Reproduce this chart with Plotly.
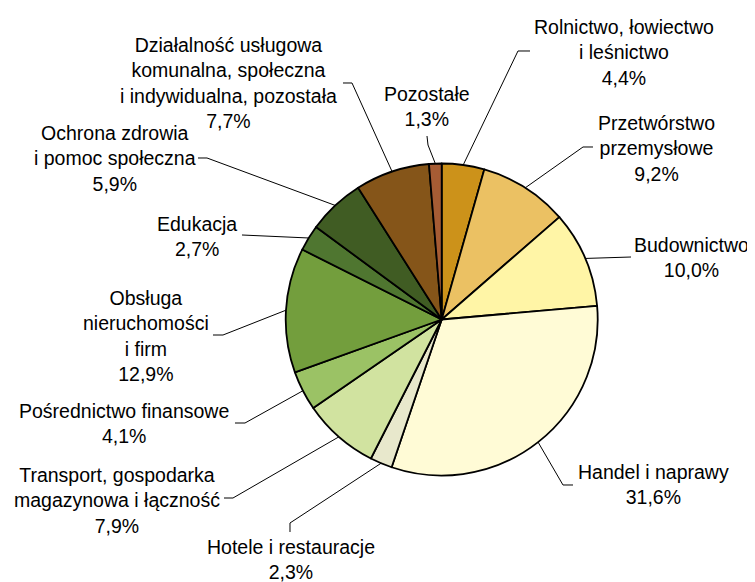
import math
import plotly.graph_objects as go

# ---- data ----
categories = [
    "Rolnictwo, łowiectwo<br>i leśnictwo",
    "Przetwórstwo<br>przemysłowe",
    "Budownictwo",
    "Handel i naprawy",
    "Hotele i restauracje",
    "Transport, gospodarka<br>magazynowa i łączność",
    "Pośrednictwo finansowe",
    "Obsługa<br>nieruchomości<br>i firm",
    "Edukacja",
    "Ochrona zdrowia<br>i pomoc społeczna",
    "Działalność usługowa<br>komunalna, społeczna<br>i indywidualna, pozostała",
    "Pozostałe",
]
shares = [4.4, 9.2, 10.0, 31.6, 2.3, 7.9, 4.1, 12.9, 2.7, 5.9, 7.7, 1.3]
value_labels = ["4,4%", "9,2%", "10,0%", "31,6%", "2,3%", "7,9%", "4,1%",
                "12,9%", "2,7%", "5,9%", "7,7%", "1,3%"]

# ---- styles ----
colors = ["#CC921A", "#EBC163", "#FFF5A6", "#FFFBD6", "#E8E8CC", "#D1E3A0",
          "#9BC265", "#739E3D", "#4F7630", "#405C23", "#855519", "#A65C34"]

OFF = 8                    # page body margin
W, H = 755 - OFF, 582 - OFF
CX, CY, R = 441.7, 319.5, 156.0

# label block centres and leader-line bend points (window pixels, layout only)
label_pos = [(624, 52), (656, 148), (691, 257), (653, 484), (291, 559),
             (117, 500), (124, 423), (146, 336), (197, 236), (115, 158),
             (228, 83), (427, 106)]
leader_bends = [
    [(518, 51), (530, 51)],
    [(583, 147), (593, 147)],
    [(631, 257)],
    [(563, 485), (573, 485)],
    [(290, 523), (290, 532)],
    [(233, 498), (224, 498)],
    [(245, 423), (235, 423)],
    [(223, 335), (213, 335)],
    [(242, 235)],
    [(207, 158), (198, 158)],
    [(352, 83), (343, 83)],
    [(428, 145), (427, 136)],
]


def px(x):
    return (x - OFF) / W


def py(y):
    return 1 - (y - OFF) / H


fig = go.Figure(go.Pie(
    values=shares,
    labels=[c.replace("<br>", " ") for c in categories],
    sort=False,
    direction="clockwise",
    rotation=0,
    textinfo="none",
    marker=dict(colors=colors, line=dict(color="#000000", width=1.8)),
    domain=dict(x=[px(CX - R), px(CX + R)], y=[py(CY + R), py(CY - R)]),
    showlegend=False,
))

total = sum(shares)
cum = 0.0
shapes = []
annotations = []
for i, v in enumerate(shares):
    mid = (cum + v / 2) / total * 2 * math.pi
    cum += v
    sx = CX + R * math.sin(mid)
    sy = CY - R * math.cos(mid)
    pts = [(sx, sy)] + leader_bends[i]
    path = "M " + " L ".join(f"{px(x):.5f},{py(y):.5f}" for x, y in pts)
    shapes.append(dict(type="path", path=path, xref="paper", yref="paper",
                       line=dict(color="#000000", width=1)))
    lx, ly = label_pos[i]
    annotations.append(dict(
        text=categories[i] + "<br>" + value_labels[i],
        x=px(lx), y=py(ly), xref="paper", yref="paper",
        xanchor="center", yanchor="middle", align="center",
        showarrow=False,
        font=dict(family="Liberation Sans, Arial, sans-serif", size=19.5,
                  color="#000000"),
    ))

fig.update_layout(
    width=W, height=H,
    margin=dict(l=0, r=0, t=0, b=0),
    paper_bgcolor="#FFFFFF",
    plot_bgcolor="#FFFFFF",
    shapes=shapes,
    annotations=annotations,
)

fig.write_html("out.html")
